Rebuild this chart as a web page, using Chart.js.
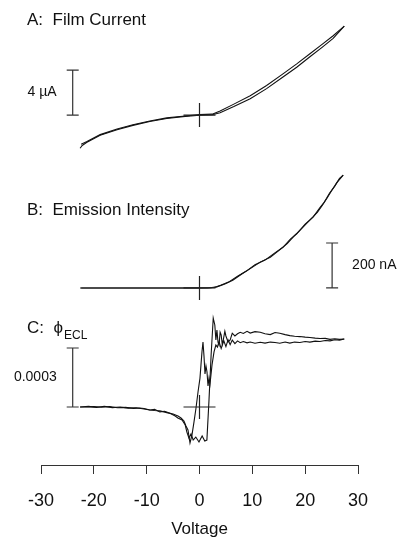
<!DOCTYPE html>
<html>
<head>
<meta charset="utf-8">
<script src="https://cdn.jsdelivr.net/npm/chart.js@4.4.1/dist/chart.umd.min.js"></script>
<style>
html, body { margin: 0; padding: 0; background: #fff; }
#wrap { width: 399px; height: 544px; }
</style>
</head>
<body>
<div id="wrap"><canvas id="chart" width="399" height="544"></canvas></div>
<script>
// Panel A: film current (uA) vs voltage, two sweep branches
const filmFwdV = [-22.6, -22.2, -21.3, -18.8, -15.6, -12.6, -9.4, -6.2, -2.7, 0, 2.4, 3.9, 6.5, 9.6, 12.7, 15.8, 18.4, 20.9, 23.2, 25.3, 27.4];
const filmFwdI = [-2.95, -2.7, -2.42, -1.8, -1.3, -0.92, -0.58, -0.3, -0.12, -0.02, 0.02, 0.2, 0.75, 1.45, 2.35, 3.38, 4.25, 5.18, 6.02, 6.82, 7.91];
const filmRevV = [27.4, 25.3, 23.2, 20.9, 18.4, 15.8, 12.7, 9.6, 6.5, 3.9, 2.4, 0, -2.7, -6.2, -9.4, -12.6, -15.6, -18.8, -21.3, -22.4];
const filmRevI = [7.91, 7.05, 6.28, 5.45, 4.55, 3.66, 2.62, 1.72, 0.97, 0.36, 0.08, 0.04, -0.08, -0.25, -0.53, -0.86, -1.24, -1.74, -2.36, -2.6];

// Panel B: emission intensity (nA)
const emisFwdV = [-22.6, -15, -8, -3, 0, 2, 3.3, 4.8, 6.3, 8.0, 9.6, 11.5, 13.4, 15.0, 16.6, 17.8, 19.0, 20.6, 22.3, 23.2, 24.1, 25.0, 26.0, 27.2];
const emisFwdI = [0, 0, 0, 0, 0, 1, 5, 18, 34, 62, 86, 115, 137, 166, 197, 228, 256, 295, 336, 366, 398, 432, 468, 502];
const emisRevV = [27.2, 26.5, 25.6, 24.6, 23.6, 22.8, 21.5, 20.0, 18.4, 17.2, 15.8, 14.2, 12.4, 10.5, 8.8, 7.2, 5.5, 4.0, 2.8, 1.5, 0, -5, -12, -22.4];
const emisRevI = [502, 487, 453, 421, 381, 357, 315, 284, 241, 217, 181, 155, 124, 103, 74, 52, 26, 12, 2, 0, 0, 0, 0, 0];

// Panel C: ECL efficiency, in units of 1e-4
const eclFwdV = [-22.6, -21.0, -19.5, -18.0, -16.5, -15.0, -13.5, -12.0, -10.5, -9.4, -8.5, -7.5, -6.6, -5.6, -4.6, -4.1, -3.3, -2.7, -2.4, -2.0, -1.6, -1.2, -0.7, -0.1, 0.5, 1.0, 1.4, 1.8, 2.2, 2.6, 2.9, 3.1, 3.3, 3.5, 3.7, 3.9, 4.1, 4.3, 4.5, 4.8, 5.0, 5.4, 5.8, 6.2, 6.7, 7.2, 7.7, 8.3, 9.0, 9.6, 10.5, 11.5, 12.4, 13.4, 14.3, 15.2, 16.2, 17.1, 18.0, 19.0, 20.0, 20.9, 21.9, 22.8, 23.8, 24.7, 25.6, 26.5, 27.4];
const eclFwdPhi = [0, 0.03, -0.02, 0.04, -0.03, 0, -0.06, -0.04, -0.1, -0.15, -0.12, -0.25, -0.22, -0.32, -0.46, -0.56, -0.66, -0.92, -1.27, -1.58, -1.37, -1.68, -1.53, -1.78, -1.47, -1.73, -1.68, 0.36, 2.64, 4.52, 4.17, 3.41, 3.91, 3.3, 3.15, 3.8, 3.66, 3.2, 3.41, 3.85, 3.61, 3.3, 3.41, 3.75, 3.61, 3.72, 3.8, 3.74, 3.85, 3.76, 3.83, 3.8, 3.72, 3.68, 3.79, 3.75, 3.68, 3.63, 3.6, 3.58, 3.55, 3.53, 3.5, 3.48, 3.49, 3.44, 3.47, 3.44, 3.46];
const eclRevV = [27.4, 26.5, 25.6, 24.7, 23.8, 22.8, 21.9, 20.9, 20.0, 19.0, 18.0, 17.1, 16.2, 15.2, 14.3, 13.4, 12.4, 11.5, 10.5, 9.6, 9.0, 8.3, 7.7, 7.2, 6.7, 6.2, 5.8, 5.4, 5.0, 4.6, 4.1, 3.7, 3.4, 3.1, 2.75, 2.37, 1.99, 1.8, 1.61, 1.42, 1.23, 1.04, 0.85, 0.66, 0.47, 0.28, 0.09, -0.28, -0.66, -1.04, -1.42, -1.8, -2.18, -2.56, -2.94, -3.5, -4.07, -5.0, -6.0, -7.5, -8.5, -9.4, -10.5, -11.3, -12.5, -14, -15.5, -17, -18.5, -20, -21.5, -22.6];
const eclRevPhi = [3.46, 3.4, 3.42, 3.36, 3.38, 3.33, 3.35, 3.3, 3.33, 3.28, 3.3, 3.25, 3.3, 3.24, 3.28, 3.3, 3.25, 3.29, 3.24, 3.3, 3.26, 3.33, 3.27, 3.36, 3.22, 3.4, 3.17, 3.42, 3.07, 3.37, 2.97, 3.32, 3.05, 3.15, 2.8, 2.14, 1.17, 1.47, 1.07, 1.78, 2.08, 1.68, 2.59, 3.3, 2.8, 2.14, 1.47, 0.76, -0.05, -0.76, -1.42, -1.83, -1.17, -0.97, -0.71, -0.56, -0.46, -0.36, -0.3, -0.2, -0.18, -0.15, -0.08, -0.05, -0.07, -0.02, -0.04, 0.02, -0.01, 0.02, 0, 0];

const voltageTicks = [-30, -20, -10, 0, 10, 20, 30];

// scale bars: axis, voltage position, value span, label
const barAxes   = ['yA', 'yB', 'yC'];
const barVolt   = [-24, 25.1, -24];
const barSpan   = [4, 200, 3];
const barLabels = ['4 \u00b5A', '200 nA', '0.0003'];

const FONT = "'Liberation Sans', Arial, Helvetica, sans-serif";
const INK = '#111';

function pts(xs, ys) {
    return xs.map((v, i) => ({ x: v, y: ys[i] }));
}

function trace(xs, ys, axis) {
    return {
        data: pts(xs, ys),
        yAxisID: axis,
        showLine: true,
        borderColor: INK,
        borderWidth: 1.1,
        pointRadius: 0,
        tension: 0,
        clip: false
    };
}

const decor = {
    id: 'decor',
    afterDatasetsDraw(chart) {
        const ctx = chart.ctx;
        const xs = chart.scales.x;
        ctx.save();
        ctx.strokeStyle = '#222';
        ctx.lineWidth = 1.2;

        // crosshairs at origin of each panel
        for (const id of barAxes) {
            const px = xs.getPixelForValue(0);
            const py = chart.scales[id].getPixelForValue(0);
            ctx.beginPath();
            ctx.moveTo(px - 16, py); ctx.lineTo(px + 16, py);
            ctx.moveTo(px, py - 12); ctx.lineTo(px, py + 12);
            ctx.stroke();
        }

        // scale bars
        ctx.strokeStyle = '#333';
        ctx.fillStyle = INK;
        ctx.textBaseline = 'middle';
        barAxes.forEach((id, i) => {
            const ys = chart.scales[id];
            const px = xs.getPixelForValue(barVolt[i]);
            const y0 = ys.getPixelForValue(0);
            const y1 = ys.getPixelForValue(barSpan[i]);
            ctx.beginPath();
            ctx.moveTo(px, y0); ctx.lineTo(px, y1);
            ctx.moveTo(px - 6, y0); ctx.lineTo(px + 6, y0);
            ctx.moveTo(px - 6, y1); ctx.lineTo(px + 6, y1);
            ctx.stroke();
            ctx.font = '14px ' + FONT;
            const mid = (y0 + y1) / 2;
            if (barVolt[i] < 0) {
                ctx.textAlign = 'right';
                ctx.fillText(barLabels[i], px - 16, mid);
            } else {
                ctx.textAlign = 'left';
                ctx.fillText(barLabels[i], px + 20, mid);
            }
        });

        // panel titles
        ctx.textAlign = 'left';
        ctx.font = '17px ' + FONT;
        ctx.fillText('A:  Film Current', 27, 20);
        ctx.fillText('B:  Emission Intensity', 27, 210);
        ctx.fillText('C:  \u03d5', 27, 328);
        const w = ctx.measureText('C:  \u03d5').width;
        ctx.font = '12px ' + FONT;
        ctx.fillText('ECL', 27 + w + 1, 336);
        ctx.restore();
    }
};

new Chart(document.getElementById('chart'), {
    type: 'scatter',
    data: {
        datasets: [
            trace(filmFwdV, filmFwdI, 'yA'),
            trace(filmRevV, filmRevI, 'yA'),
            trace(emisFwdV, emisFwdI, 'yB'),
            trace(emisRevV, emisRevI, 'yB'),
            trace(eclFwdV, eclFwdPhi, 'yC'),
            trace(eclRevV, eclRevPhi, 'yC')
        ]
    },
    options: {
        responsive: false,
        animation: false,
        layout: { padding: { left: 41, right: 41, top: 5, bottom: 0 } },
        plugins: { legend: { display: false }, tooltip: { enabled: false } },
        scales: {
            x: {
                type: 'linear',
                min: -30,
                max: 30,
                afterBuildTicks: (s) => { s.ticks = voltageTicks.map(v => ({ value: v })); },
                afterFit: (s) => { s.height = 79; },
                grid: { drawOnChartArea: false, drawTicks: true, tickLength: 9, color: '#333' },
                border: { display: true, color: '#333', width: 1 },
                ticks: { color: INK, font: { family: FONT, size: 18 }, padding: 16, maxRotation: 0 },
                title: { display: true, text: 'Voltage', color: INK, font: { family: FONT, size: 17 }, padding: { top: 0, bottom: 4 } }
            },
            yA: { type: 'linear', display: false, min: -31.1, max: 9.78 },
            yB: { type: 'linear', display: false, min: -787, max: 1258 },
            yC: { type: 'linear', display: false, min: -2.95, max: 20.44 }
        }
    },
    plugins: [decor]
});
</script>
</body>
</html>
